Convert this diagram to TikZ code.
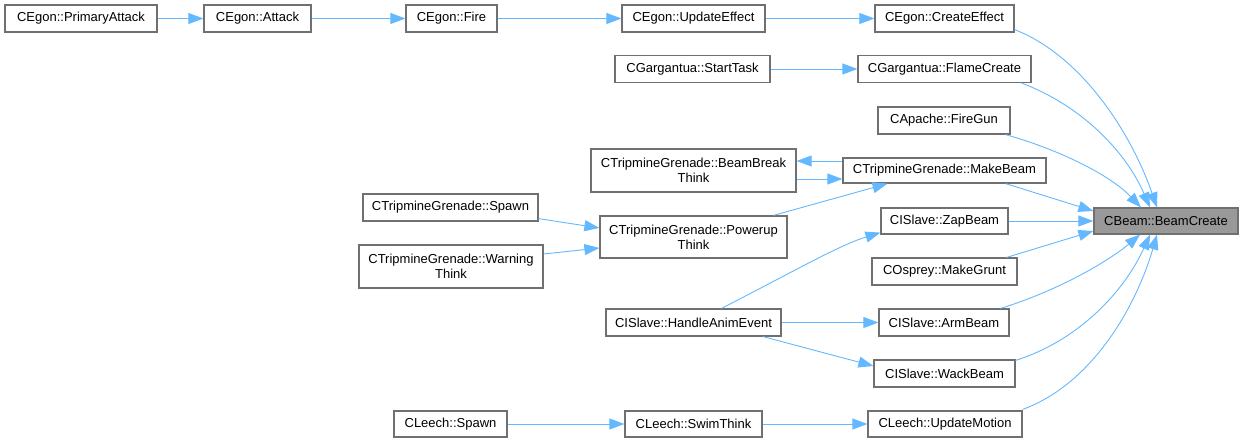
\documentclass[tikz,border=0pt]{standalone}
\usepackage{fontspec}
\setmainfont{Liberation Sans}
\usetikzlibrary{arrows.meta,calc}
\definecolor{edgec}{HTML}{63B8FF}
\definecolor{bordc}{HTML}{707070}
\definecolor{curc}{HTML}{999999}
\begin{document}
\begin{tikzpicture}[x=1pt,y=-1pt,
 fn/.style={draw=bordc, line width=1.2pt, fill=white, inner sep=0pt, minimum height=27pt, align=center, font=\fontsize{13}{15}\selectfont},
 cur/.style={fn, fill=curc},
 call/.style={draw=edgec, line width=0.9pt, -{Triangle[length=15pt,width=11pt]}}]
\useasboundingbox (0,0) rectangle (1244,443);
\node[fn, minimum width=152pt] (pa) at (81,18.5) {CEgon::PrimaryAttack};
\node[fn, minimum width=107pt] (at) at (257.5,18.5) {CEgon::Attack};
\node[fn, minimum width=91pt] (fi) at (451.5,18.5) {CEgon::Fire};
\node[fn, minimum width=143pt] (ue) at (693.5,18.5) {CEgon::UpdateEffect};
\node[fn, minimum width=139pt] (ce) at (944.5,18.5) {CEgon::CreateEffect};
\node[fn, minimum width=155pt] (st) at (692.5,69) {CGargantua::StartTask};
\node[fn, minimum width=173pt] (fc) at (944.5,69) {CGargantua::FlameCreate};
\node[fn, minimum width=132pt] (fg) at (944,120.5) {CApache::FireGun};
\node[fn, minimum width=205pt, minimum height=43pt] (bbt) at (693.5,170.5) {CTripmineGrenade::BeamBreak\\Think};
\node[fn, minimum width=203pt, minimum height=25pt] (mb) at (944.5,170.5) {CTripmineGrenade::MakeBeam};
\node[fn, minimum width=187pt, minimum height=42pt] (put) at (693.5,237) {CTripmineGrenade::Powerup\\Think};
\node[fn, minimum width=127pt, minimum height=26pt] (zb) at (944.5,221) {CISlave::ZapBeam};
\node[fn, minimum width=145pt] (mg) at (944.5,271.5) {COsprey::MakeGrunt};
\node[fn, minimum width=175pt] (ts) at (450.5,207.5) {CTripmineGrenade::Spawn};
\node[fn, minimum width=184pt, minimum height=43pt] (wt) at (451,266.5) {CTripmineGrenade::Warning\\Think};
\node[cur, minimum width=144pt, minimum height=26pt] (bc) at (1166,221) {CBeam::BeamCreate};
\node[fn, minimum width=175pt] (hae) at (693.5,322.5) {CISlave::HandleAnimEvent};
\node[fn, minimum width=130pt] (ab) at (944,322.5) {CISlave::ArmBeam};
\node[fn, minimum width=141pt] (wb) at (944.5,373.5) {CISlave::WackBeam};
\node[fn, minimum width=137pt, minimum height=26pt] (sw) at (693.5,424) {CLeech::SwimThink};
\node[fn, minimum width=154pt, minimum height=26pt] (um) at (945,424) {CLeech::UpdateMotion};
\node[fn, minimum width=113pt, minimum height=26pt] (ls) at (450.5,424) {CLeech::Spawn};

\draw[call] (pa) -- (at);
\draw[call] (at) -- (fi);
\draw[call] (fi) -- (ue);
\draw[call] (ue) -- (ce);
\draw[call] (st) -- (fc);
\draw[call] (zb) -- (bc);
\draw[call] (hae) -- (ab);
\draw[call] (ls) -- (sw);
\draw[call] (sw) -- (um);
\draw[call] ([yshift=9.5pt]mb.west) -- ([yshift=9.5pt]bbt.east);
\draw[call] ([yshift=-8.5pt]bbt.east) -- ([yshift=-8.5pt]mb.west);
\draw[call] ([xshift=80pt]put.north) -- ([xshift=-57pt]mb.south);
\draw[call] ([yshift=3pt]ts.south east) -- ([yshift=9pt]put.west);
\draw[call] ([yshift=12.5pt]wt.east) -- ([yshift=-11pt]put.west);
\draw[call] ([xshift=69.5pt]hae.south) -- ([yshift=7.5pt]wb.west);
\draw[call] ([xshift=28pt]hae.north) .. controls (800,268) and (840,245) .. ([yshift=2pt]zb.south west);

\draw[call] ([yshift=3pt]ce.south east) .. controls (1080,55) and (1130,130) .. ([xshift=-9pt]bc.north);
\draw[call] ([xshift=-10pt]fc.south east) .. controls (1080,105) and (1125,150) .. ([xshift=-16pt]bc.north);
\draw[call] ([xshift=-5pt]fg.south east) .. controls (1060,150) and (1110,175) .. ([xshift=-25pt]bc.north);
\draw[call] ([xshift=-41pt]mb.south east) -- ([yshift=10pt]bc.west);
\draw[call] ([xshift=-11pt]mg.north east) -- ([yshift=-10pt]bc.west);
\draw[call] ([xshift=-9pt]ab.north east) .. controls (1060,290) and (1110,260) .. ([xshift=-26pt]bc.south);
\draw[call] ([yshift=-1pt]wb.north east) .. controls (1080,340) and (1125,290) .. ([xshift=-16pt]bc.south);
\draw[call] ([yshift=1pt]um.north east) .. controls (1090,385) and (1135,310) .. ([xshift=-9pt]bc.south);
\end{tikzpicture}
\end{document}
